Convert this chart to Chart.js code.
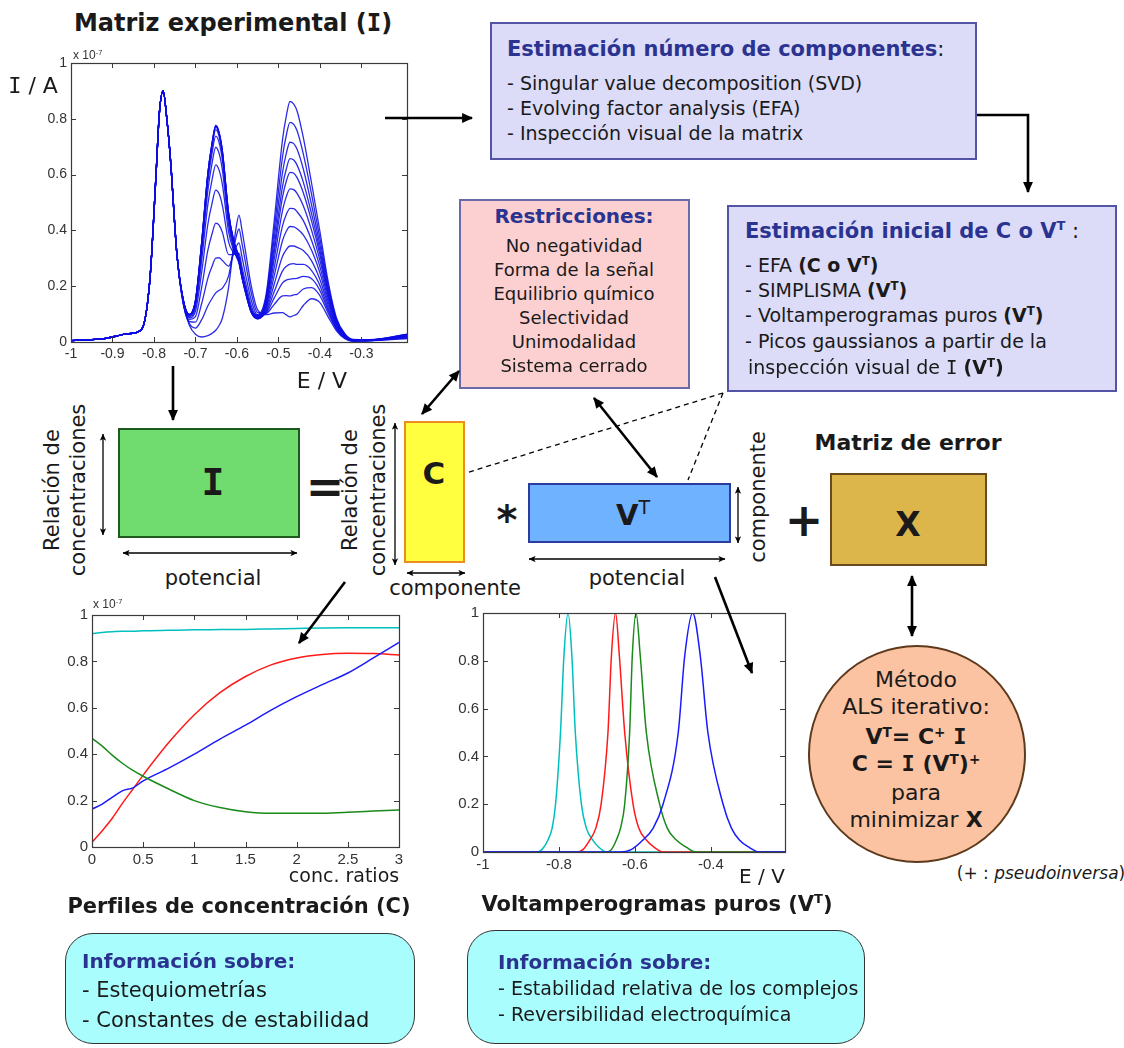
<!DOCTYPE html>
<html lang="es">
<head>
<meta charset="utf-8">
<title>MCR-ALS: descomposición bilineal de la matriz voltamperométrica</title>
<script src="https://cdn.jsdelivr.net/npm/chart.js@4.4.1/dist/chart.umd.min.js"></script>
<style>
  html, body { margin: 0; padding: 0; background: #fff; }
  #page { position: relative; width: 1124px; height: 1048px; overflow: hidden;
          font-family: "DejaVu Sans", Verdana, sans-serif; color: #1a1a1a; }
  .abs { position: absolute; white-space: nowrap; line-height: 1; }
  .c { transform: translate(-50%, -50%); }
  .l { transform: translateY(-50%); }
  .rot { transform: translate(-50%, -50%) rotate(-90deg); text-align: center; }
  .box { position: absolute; box-sizing: border-box; }
  .hb { color: #2b3391; font-weight: bold; }
  .b { font-weight: bold; }
  .I { font-family: "DejaVu Sans Mono", monospace; }
  sup { font-size: 0.62em; vertical-align: 0.55em; line-height: 0; }
  canvas { position: absolute; }
  .ax { font-family: "Liberation Sans", Arial, sans-serif; color: #333; }
  svg { position: absolute; left: 0; top: 0; pointer-events: none; }
</style>
</head>
<body>
<div id="page">

  <!-- experimental matrix -->
  <div class="abs c b" style="left:233px;top:23px;font-size:24px">Matriz experimental (<span class="I">I</span>)</div>
  <canvas id="chartI" width="400" height="330" style="left:20px;top:50px"></canvas>
  <div class="abs ax" style="left:73px;top:49px;font-size:12px">x 10<sup>-7</sup></div>
  <div class="abs c" style="left:33px;top:86px;font-size:22px"><span class="I">I</span> / A</div>
  <div class="abs c" style="left:322px;top:381px;font-size:22px">E / V</div>

  <!-- number of components -->
  <div class="box" style="left:490px;top:22px;width:487px;height:138px;background:#dcdcf8;border:2px solid #5454a6"></div>
  <div class="abs l" style="left:507px;top:49px;font-size:21px"><span class="hb">Estimación número de componentes</span>:</div>
  <div class="abs l" style="left:507px;top:83px;font-size:19px">- Singular value decomposition (SVD)</div>
  <div class="abs l" style="left:507px;top:108px;font-size:19px">- Evolving factor analysis (EFA)</div>
  <div class="abs l" style="left:507px;top:133px;font-size:19px">- Inspección visual de la matrix</div>

  <!-- constraints -->
  <div class="box" style="left:459px;top:199px;width:231px;height:190px;background:#fcd0d0;border:2px solid #6a6aaa"></div>
  <div class="abs c hb" style="left:574px;top:216px;font-size:20px">Restricciones:</div>
  <div class="abs c" style="left:574px;top:246px;font-size:18px">No negatividad</div>
  <div class="abs c" style="left:574px;top:270px;font-size:18px">Forma de la señal</div>
  <div class="abs c" style="left:574px;top:294px;font-size:18px">Equilibrio químico</div>
  <div class="abs c" style="left:574px;top:318px;font-size:18px">Selectividad</div>
  <div class="abs c" style="left:574px;top:342px;font-size:18px">Unimodalidad</div>
  <div class="abs c" style="left:574px;top:366px;font-size:18px">Sistema cerrado</div>

  <!-- initial estimation -->
  <div class="box" style="left:727px;top:205px;width:390px;height:187px;background:#dcdcf8;border:2px solid #5454a6"></div>
  <div class="abs l" style="left:745px;top:231px;font-size:21px"><span class="hb">Estimación inicial de C o V<sup>T</sup></span> :</div>
  <div class="abs l" style="left:745px;top:265px;font-size:19px">- EFA <b>(C o V<sup>T</sup>)</b></div>
  <div class="abs l" style="left:745px;top:290px;font-size:19px">- SIMPLISMA <b>(V<sup>T</sup>)</b></div>
  <div class="abs l" style="left:745px;top:315px;font-size:19px">- Voltamperogramas puros <b>(V<sup>T</sup>)</b></div>
  <div class="abs l" style="left:745px;top:341px;font-size:19px">- Picos gaussianos a partir de la</div>
  <div class="abs l" style="left:748px;top:367px;font-size:19px">inspección visual de <span class="I">I</span> <b>(V<sup>T</sup>)</b></div>

  <!-- bilinear model I = C * VT + X -->
  <div class="abs rot" style="left:65px;top:490px;font-size:21px;line-height:26px">Relación de<br>concentraciones</div>
  <div class="box" style="left:118px;top:428px;width:182px;height:110px;background:#70dc70;border:2px solid #1e5a1e"></div>
  <div class="abs c b I" style="left:213px;top:482px;font-size:38px">I</div>
  <div class="abs c" style="left:213px;top:578px;font-size:21px">potencial</div>
  <div class="abs c b" style="left:325px;top:487px;font-size:46px">=</div>

  <div class="abs rot" style="left:364px;top:490px;font-size:21px;line-height:28px">Relación de<br>concentraciones</div>
  <div class="box" style="left:404px;top:421px;width:61px;height:142px;background:#ffff40;border:2px solid #f08c1e"></div>
  <div class="abs c b" style="left:434px;top:473px;font-size:31px">C</div>
  <div class="abs c" style="left:455px;top:588px;font-size:21px">componente</div>

  <div class="abs c b" style="left:507px;top:520px;font-size:40px">*</div>
  <div class="box" style="left:528px;top:483px;width:203px;height:60px;background:#6fb2ff;border:2px solid #2c3c9c"></div>
  <div class="abs c" style="left:633px;top:514px;font-size:29px"><b>V</b><span style="font-size:19px;vertical-align:11px">T</span></div>
  <div class="abs rot" style="left:758px;top:497px;font-size:21px">componente</div>
  <div class="abs c" style="left:637px;top:578px;font-size:21px">potencial</div>

  <div class="abs c b" style="left:804px;top:520px;font-size:46px">+</div>
  <div class="abs c b" style="left:908px;top:443px;font-size:22px">Matriz de error</div>
  <div class="box" style="left:830px;top:473px;width:157px;height:93px;background:#dcb54b;border:2px solid #6a4a1a"></div>
  <div class="abs c b" style="left:908px;top:524px;font-size:33px">X</div>

  <!-- ALS -->
  <div class="box" style="left:808px;top:645px;width:218px;height:218px;border-radius:50%;background:#fbc3a2;border:2px solid #5e3a1c"></div>
  <div class="abs c" style="left:916px;top:680px;font-size:22px">Método</div>
  <div class="abs c" style="left:916px;top:707px;font-size:22px">ALS iterativo:</div>
  <div class="abs c b" style="left:916px;top:737px;font-size:22px">V<sup>T</sup>= C<sup>+</sup> <span class="I">I</span></div>
  <div class="abs c b" style="left:916px;top:764px;font-size:22px">C = <span class="I">I</span> (V<sup>T</sup>)<sup>+</sup></div>
  <div class="abs c" style="left:916px;top:793px;font-size:22px">para</div>
  <div class="abs c" style="left:916px;top:820px;font-size:22px">minimizar <b>X</b></div>
  <div class="abs c" style="left:1041px;top:873px;font-size:17px">(+ : <i>pseudoinversa</i>)</div>

  <!-- concentration profiles -->
  <canvas id="chartC" width="380" height="275" style="left:40px;top:600px"></canvas>
  <div class="abs ax" style="left:93px;top:598px;font-size:12px">x 10<sup>-7</sup></div>
  <div class="abs c" style="left:344px;top:875px;font-size:19px">conc. ratios</div>
  <div class="abs c b" style="left:239px;top:906px;font-size:21px">Perfiles de concentración (C)</div>

  <!-- pure voltammograms -->
  <canvas id="chartV" width="375" height="285" style="left:430px;top:598px"></canvas>
  <div class="abs c" style="left:762px;top:876px;font-size:20px">E / V</div>
  <div class="abs c b" style="left:657px;top:904px;font-size:21px">Voltamperogramas puros (V<sup>T</sup>)</div>

  <!-- information boxes -->
  <div class="box" style="left:65px;top:933px;width:350px;height:111px;border-radius:28px;background:#aafdfd;border:1.5px solid #333"></div>
  <div class="abs l hb" style="left:82px;top:961px;font-size:20px">Información sobre:</div>
  <div class="abs l" style="left:82px;top:990px;font-size:21px">- Estequiometrías</div>
  <div class="abs l" style="left:82px;top:1020px;font-size:21px">- Constantes de estabilidad</div>

  <div class="box" style="left:467px;top:930px;width:398px;height:114px;border-radius:28px;background:#aafdfd;border:1.5px solid #333"></div>
  <div class="abs l hb" style="left:498px;top:962px;font-size:20px">Información sobre:</div>
  <div class="abs l" style="left:498px;top:988px;font-size:19px">- Estabilidad relativa de los complejos</div>
  <div class="abs l" style="left:498px;top:1014px;font-size:19px">- Reversibilidad electroquímica</div>

  <!-- connectors -->
  <svg width="1124" height="1048" viewBox="0 0 1124 1048">
    <defs>
      <marker id="ah" viewBox="0 0 10 10" refX="9" refY="5" markerWidth="14" markerHeight="11"
              markerUnits="userSpaceOnUse" orient="auto-start-reverse">
        <path d="M0,0.5 L10,5 L0,9.5 z" fill="#000"/>
      </marker>
      <marker id="sh" viewBox="0 0 10 10" refX="9.5" refY="5" markerWidth="9" markerHeight="7"
              markerUnits="userSpaceOnUse" orient="auto-start-reverse">
        <path d="M0,0.5 L10,5 L0,9.5 L2.5,5 z" fill="#000"/>
      </marker>
    </defs>
    <g stroke="#000" stroke-width="2.6" fill="none">
      <line x1="385" y1="118" x2="472" y2="118" marker-end="url(#ah)"/>
      <polyline points="977,115 1028,115 1028,192" marker-end="url(#ah)"/>
      <line x1="173" y1="366" x2="173" y2="420" marker-end="url(#ah)"/>
      <line x1="459" y1="371" x2="422" y2="414" marker-start="url(#ah)" marker-end="url(#ah)"/>
      <line x1="594" y1="398" x2="657" y2="477" marker-start="url(#ah)" marker-end="url(#ah)"/>
      <line x1="345" y1="582" x2="299" y2="643" marker-end="url(#ah)"/>
      <line x1="715" y1="577" x2="752" y2="673" marker-end="url(#ah)"/>
      <line x1="912" y1="576" x2="912" y2="636" marker-start="url(#ah)" marker-end="url(#ah)"/>
    </g>
    <g stroke="#000" stroke-width="1.3" stroke-dasharray="5 4" fill="none">
      <line x1="723" y1="393" x2="466" y2="473"/>
      <line x1="723" y1="393" x2="688" y2="480"/>
    </g>
    <g stroke="#000" stroke-width="1.3" fill="none">
      <line x1="103" y1="434" x2="103" y2="535" marker-start="url(#sh)" marker-end="url(#sh)"/>
      <line x1="123" y1="553" x2="297" y2="553" marker-start="url(#sh)" marker-end="url(#sh)"/>
      <line x1="395" y1="423" x2="395" y2="565" marker-start="url(#sh)" marker-end="url(#sh)"/>
      <line x1="407" y1="573" x2="465" y2="573" marker-start="url(#sh)" marker-end="url(#sh)"/>
      <line x1="738" y1="487" x2="738" y2="543" marker-start="url(#sh)" marker-end="url(#sh)"/>
      <line x1="529" y1="559" x2="725" y2="559" marker-start="url(#sh)" marker-end="url(#sh)"/>
    </g>
  </svg>
</div>

<script>
// ---------- experimental matrix I (current x 1e-7 A vs potential / V) ----------
const E_GRID = [-1.00, -0.92, -0.86, -0.83, -0.81, -0.795, -0.787, -0.778, -0.769, -0.76, -0.745,
                -0.73, -0.715, -0.70, -0.685, -0.67, -0.66, -0.651, -0.643, -0.635, -0.62,
                -0.608, -0.602, -0.595, -0.588, -0.58, -0.565, -0.55, -0.53, -0.51, -0.49,
                -0.481, -0.472, -0.463, -0.455, -0.44, -0.42, -0.40, -0.38, -0.36, -0.34,
                -0.32, -0.28, -0.19];

// one row per titration point (conc. ratio 0, 0.25, ... 3)
const I_CURVES = [
  [0.005,0.012,0.03,0.045,0.22,0.6,0.82,0.9,0.8,0.65,0.32, .140,.061,.028,.018,.023,.031,.042,.059,.086,.197,.344,.409,.455,.403,.331,.198,.115,.098,.104,.105,.097,.090,.095,.100,.131,.155,.141,.090,.040,.012,.003,.004,.012],
  [0.005,0.012,0.03,0.045,0.22,0.6,0.82,0.9,0.8,0.65,0.32, .143,.068,.050,.080,.130,.156,.176,.185,.193,.237,.332,.376,.405,.355,.290,.173,.105,.102,.135,.165,.166,.165,.169,.171,.190,.195,.166,.103,.045,.014,.003,.005,.014],
  [0.005,0.012,0.03,0.045,0.22,0.6,0.82,0.9,0.8,0.65,0.32, .146,.074,.071,.138,.229,.271,.301,.302,.292,.272,.317,.341,.355,.307,.248,.147,.095,.103,.158,.212,.222,.225,.227,.228,.235,.227,.185,.112,.048,.015,.004,.005,.016],
  [0.005,0.012,0.03,0.045,0.22,0.6,0.82,0.9,0.8,0.65,0.32, .148,.081,.091,.196,.329,.388,.426,.419,.393,.313,.313,.319,.318,.270,.218,.128,.087,.106,.181,.255,.271,.279,.281,.278,.278,.256,.203,.121,.051,.016,.004,.006,.018],
  [0.005,0.012,0.03,0.045,0.22,0.6,0.82,0.9,0.8,0.65,0.32, .151,.087,.110,.250,.423,.497,.544,.531,.489,.358,.320,.311,.299,.250,.199,.116,.084,.110,.208,.307,.331,.344,.344,.339,.328,.291,.224,.132,.055,.018,.005,.006,.019],
  [0.005,0.012,0.03,0.045,0.22,0.6,0.82,0.9,0.8,0.65,0.32, .153,.091,.125,.292,.494,.581,.635,.616,.564,.394,.329,.309,.288,.239,.188,.109,.083,.117,.238,.364,.397,.414,.413,.406,.384,.329,.248,.143,.060,.019,.005,.005,.020],
  [0.005,0.012,0.03,0.045,0.22,0.6,0.82,0.9,0.8,0.65,0.32, .154,.095,.135,.321,.544,.640,.698,.676,.616,.419,.336,.308,.282,.232,.181,.104,.083,.123,.267,.417,.457,.479,.478,.467,.435,.364,.270,.154,.064,.021,.006,.006,.021],
  [0.005,0.012,0.03,0.045,0.22,0.6,0.82,0.9,0.8,0.65,0.32, .155,.097,.142,.339,.575,.677,.738,.715,.651,.438,.345,.315,.285,.233,.182,.105,.085,.130,.297,.472,.521,.549,.546,.533,.488,.400,.293,.165,.068,.023,.006,.007,.022],
  [0.005,0.012,0.03,0.045,0.22,0.6,0.82,0.9,0.8,0.65,0.32, .155,.098,.146,.349,.593,.698,.761,.737,.670,.450,.353,.321,.290,.236,.185,.106,.088,.138,.323,.520,.576,.608,.605,.589,.535,.433,.313,.174,.071,.024,.007,.007,.024],
  [0.005,0.012,0.03,0.045,0.22,0.6,0.82,0.9,0.8,0.65,0.32, .155,.098,.147,.354,.601,.707,.771,.746,.679,.455,.356,.324,.292,.238,.186,.107,.089,.144,.344,.559,.620,.657,.652,.634,.573,.459,.329,.182,.074,.025,.007,.007,.025],
  [0.005,0.012,0.03,0.045,0.22,0.6,0.82,0.9,0.8,0.65,0.32, .155,.098,.148,.356,.605,.712,.776,.751,.683,.459,.361,.329,.298,.243,.189,.109,.092,.150,.372,.608,.676,.716,.711,.691,.620,.491,.348,.192,.078,.027,.008,.008,.026],
  [0.005,0.012,0.03,0.045,0.22,0.6,0.82,0.9,0.8,0.65,0.32, .155,.098,.148,.356,.605,.712,.776,.751,.683,.461,.365,.333,.303,.247,.193,.111,.095,.158,.403,.665,.741,.787,.780,.757,.674,.529,.371,.204,.081,.028,.008,.008,.027],
  [0.005,0.012,0.03,0.045,0.22,0.6,0.82,0.9,0.8,0.65,0.32, .155,.098,.147,.354,.602,.708,.772,.747,.681,.461,.367,.337,.307,.251,.196,.113,.098,.168,.436,.726,.810,.862,.853,.828,.733,.569,.397,.216,.086,.030,.009,.008,.028]
];
const TICKS_E_I = [-1, -0.9, -0.8, -0.7, -0.6, -0.5, -0.4, -0.3];
const TICKS_01  = [0, 0.2, 0.4, 0.6, 0.8, 1];

// ---------- concentration profiles C (x 1e-7) ----------
const RATIO   = [0, 0.1, 0.2, 0.3, 0.4, 0.5, 0.75, 1, 1.25, 1.5, 1.75, 2, 2.25, 2.5, 2.75, 3];
const C_CYAN  = [0.92, 0.925, 0.928, 0.93, 0.93, 0.932, 0.934, 0.936, 0.937, 0.938, 0.94, 0.942, 0.944, 0.945, 0.945, 0.945];
const C_RED   = [0.02, 0.07, 0.125, 0.19, 0.25, 0.31, 0.45, 0.57, 0.665, 0.735, 0.785, 0.815, 0.83, 0.835, 0.834, 0.828];
const C_BLUE  = [0.163, 0.185, 0.215, 0.243, 0.255, 0.285, 0.34, 0.4, 0.465, 0.525, 0.59, 0.648, 0.7, 0.75, 0.815, 0.882];
const C_GREEN = [0.468, 0.435, 0.395, 0.36, 0.33, 0.305, 0.25, 0.2, 0.17, 0.152, 0.145, 0.145, 0.146, 0.15, 0.155, 0.16];
const TICKS_RATIO = [0, 0.5, 1, 1.5, 2, 2.5, 3];

// ---------- pure voltammograms VT (normalised) ----------
// potentials at which each component reaches the levels in VT_LEVELS
const VT_LEVELS  = [0, 0, 0.01, 0.05, 0.1, 0.2, 0.5, 0.82, 1, 0.82, 0.5, 0.2, 0.1, 0.05, 0.02, 0, 0];
const VT_CYAN_E  = [-1, -0.86, -0.845, -0.829, -0.818, -0.809, -0.796, -0.787, -0.776, -0.766, -0.757, -0.741, -0.728, -0.711, -0.695, -0.675, -0.205];
const VT_RED_E   = [-1, -0.754, -0.737, -0.719, -0.703, -0.689, -0.671, -0.662, -0.651, -0.641, -0.627, -0.605, -0.59, -0.57, -0.55, -0.526, -0.205];
const VT_GREEN_E = [-1, -0.675, -0.662, -0.649, -0.638, -0.627, -0.614, -0.607, -0.597, -0.586, -0.57, -0.535, -0.515, -0.491, -0.465, -0.439, -0.205];
const VT_BLUE_E  = [-1, -0.64, -0.61, -0.579, -0.552, -0.526, -0.486, -0.469, -0.448, -0.428, -0.408, -0.368, -0.346, -0.325, -0.3, -0.272, -0.205];
const TICKS_E_V  = [-1, -0.8, -0.6, -0.4];

const COL = { cyan: '#00bfbf', red: '#ff1a1a', green: '#1a8a1a', blue: '#1a1aff' };

// MATLAB-like framed axes: closed box with inward ticks on all four sides
const boxAxes = {
  id: 'boxAxes',
  afterDatasetsDraw(chart) {
    const { ctx, chartArea: a, scales: { x, y } } = chart;
    const len = 5;
    ctx.save();
    ctx.strokeStyle = '#3a3a3a';
    ctx.lineWidth = 1;
    ctx.beginPath();
    x.ticks.forEach(t => {
      const p = Math.round(x.getPixelForValue(t.value)) + 0.5;
      ctx.moveTo(p, a.bottom); ctx.lineTo(p, a.bottom - len);
      ctx.moveTo(p, a.top);    ctx.lineTo(p, a.top + len);
    });
    y.ticks.forEach(t => {
      const p = Math.round(y.getPixelForValue(t.value)) + 0.5;
      ctx.moveTo(a.left, p);  ctx.lineTo(a.left + len, p);
      ctx.moveTo(a.right, p); ctx.lineTo(a.right - len, p);
    });
    ctx.stroke();
    ctx.lineWidth = 1.2;
    ctx.strokeRect(Math.round(a.left) + 0.5, Math.round(a.top) + 0.5,
                   Math.round(a.right - a.left), Math.round(a.bottom - a.top));
    ctx.restore();
  }
};

function axis(min, max, ticks, fontSize, fit) {
  return {
    type: 'linear', min, max, offset: false,
    grid: { display: false, drawTicks: false },
    border: { display: false },
    ticks: { autoSkip: false, maxRotation: 0, padding: 4, color: '#333',
             font: { family: 'Liberation Sans', size: fontSize },
             callback: v => String(v) },
    afterBuildTicks: s => { s.ticks = ticks.map(v => ({ value: v })); },
    afterFit: fit
  };
}

function framedChart(id, datasets, g) {
  return new Chart(document.getElementById(id), {
    type: 'line',
    data: { datasets },
    options: {
      responsive: false, animation: false, events: [],
      layout: { padding: { top: g.padTop, right: g.padRight, left: 0, bottom: 0 } },
      plugins: { legend: { display: false }, tooltip: { enabled: false } },
      elements: { point: { radius: 0 }, line: { cubicInterpolationMode: 'monotone' } },
      scales: {
        x: axis(g.xMin, g.xMax, g.xTicks, g.font, s => { s.height = g.xHeight; }),
        y: axis(0, 1, TICKS_01, g.font, s => { s.width = g.yWidth; })
      }
    },
    plugins: [boxAxes]
  });
}

const pts = (xs, ys) => xs.map((v, i) => ({ x: v, y: ys[i] }));

// I: family of voltammograms along the titration
framedChart('chartI',
  I_CURVES.map(row => ({ data: pts(E_GRID, row), borderColor: 'rgba(14,14,228,0.88)', borderWidth: 1.3 })),
  { padTop: 13, padRight: 13, yWidth: 51, xHeight: 38, xMin: -1, xMax: -0.19, xTicks: TICKS_E_I, font: 14 });

// C: concentration profiles
framedChart('chartC', [
  { data: pts(RATIO, C_GREEN), borderColor: COL.green, borderWidth: 1.5 },
  { data: pts(RATIO, C_BLUE),  borderColor: COL.blue,  borderWidth: 1.5 },
  { data: pts(RATIO, C_RED),   borderColor: COL.red,   borderWidth: 1.5 },
  { data: pts(RATIO, C_CYAN),  borderColor: COL.cyan,  borderWidth: 1.5 }
], { padTop: 15, padRight: 21, yWidth: 52, xHeight: 28, xMin: 0, xMax: 3, xTicks: TICKS_RATIO, font: 15 });

// VT: pure voltammograms
framedChart('chartV', [
  { data: pts(VT_BLUE_E, VT_LEVELS),  borderColor: COL.blue,  borderWidth: 1.5 },
  { data: pts(VT_GREEN_E, VT_LEVELS), borderColor: COL.green, borderWidth: 1.5 },
  { data: pts(VT_RED_E, VT_LEVELS),   borderColor: COL.red,   borderWidth: 1.5 },
  { data: pts(VT_CYAN_E, VT_LEVELS),  borderColor: COL.cyan,  borderWidth: 1.5 }
], { padTop: 15, padRight: 20, yWidth: 53, xHeight: 31, xMin: -1, xMax: -0.205, xTicks: TICKS_E_V, font: 15 });
</script>
</body>
</html>
